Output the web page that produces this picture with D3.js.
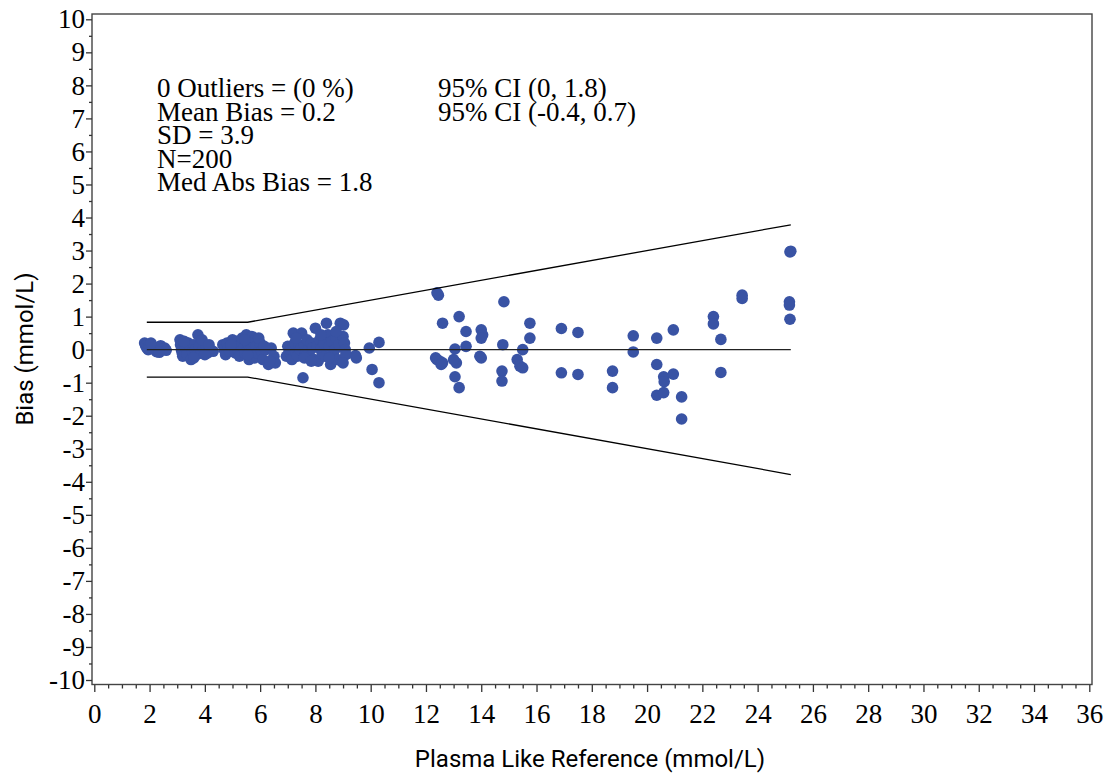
<!DOCTYPE html>
<html>
<head>
<meta charset="utf-8">
<script src="https://cdn.jsdelivr.net/npm/d3@7"></script>
<style>
  html, body { margin: 0; padding: 0; background: #fff; }
  svg { display: block; }
</style>
</head>
<body>
<svg id="chart" width="1112" height="777"></svg>
<script>
// ---- Data ----
const refX = [
  // cluster 1.8-2.6
  1.82,1.86,1.9,2.0,2.1,2.15,2.25,2.3,2.4,2.45,2.55,2.6,1.95,2.05,2.35,
  // cluster 3.0-4.4
  3.1,3.12,3.15,3.18,3.2,3.3,3.35,3.4,3.45,3.5,3.55,3.6,3.65,3.7,3.75,3.8,3.85,3.95,4.05,4.1,4.2,4.3,
  3.25,3.6,3.9,4.0,4.15,
  // cluster 4.6-6.6
  4.65,4.7,4.75,4.8,4.85,4.9,5.0,5.05,5.1,5.15,5.2,5.25,5.3,5.35,5.4,5.45,5.5,5.55,5.6,5.65,5.7,5.75,5.8,5.85,5.9,6.0,6.05,6.1,6.2,6.3,6.4,6.5,6.55,
  4.95,5.45,5.55,5.95,6.15,6.35,
  // cluster 6.9-9.1
  6.95,7.0,7.05,7.1,7.15,7.2,7.25,7.3,7.35,7.4,7.45,7.5,7.55,7.6,7.65,7.7,7.75,7.8,7.85,7.9,7.95,8.0,8.05,8.1,8.15,8.2,8.25,8.3,8.35,8.4,8.45,8.5,8.55,8.6,8.65,8.7,8.75,8.8,8.85,8.9,8.95,9.0,9.02,9.05,9.08,9.1,
  7.3,7.6,8.2,8.5,8.75,9.0,7.85,
  // 9.4-10.4
  9.45,9.48,9.95,10.05,10.3,10.3,
  // sparse points
  12.45,12.4,12.6,12.35,12.4,12.5,12.6,12.55,
  13.05,13.1,13.0,13.2,13.05,13.2,13.45,13.45,
  14.0,14.05,14.0,13.95,14.0,
  14.82,14.78,14.75,14.75,
  15.3,15.4,15.5,15.5,15.76,15.76,
  16.9,16.9,17.5,17.5,18.75,18.75,19.5,19.5,
  20.35,20.35,20.35,20.6,20.62,20.6,20.95,20.95,21.25,21.25,
  22.4,22.4,22.67,22.67,23.44,23.44,
  25.17,25.15,25.15,25.17,25.2
];
const bias = [
  0.2,0.12,0.05,0.15,0.1,0.02,-0.06,0.05,0.12,0.0,0.05,-0.02,0.0,0.2,-0.08,
  0.3,0.15,0.0,-0.1,-0.2,0.05,-0.15,0.2,0.1,-0.3,-0.05,0.15,0.0,-0.15,0.45,0.1,-0.1,0.05,0.1,-0.1,0.0,-0.05,
  0.25,-0.25,0.3,-0.15,0.15,
  0.15,0.0,-0.15,0.2,0.05,-0.05,0.3,0.1,-0.1,0.25,0.0,-0.2,0.15,0.35,0.05,-0.1,0.45,0.2,-0.3,0.0,0.4,0.25,-0.25,0.1,-0.1,0.2,-0.05,-0.3,0.0,-0.45,0.05,-0.2,-0.4,
  0.15,0.3,-0.15,0.35,0.1,-0.35,
  -0.2,0.1,-0.05,0.0,-0.3,0.5,0.2,-0.1,-0.2,0.1,0.0,0.5,-0.85,0.15,-0.1,0.3,0.0,-0.2,0.2,0.05,-0.3,0.65,0.1,-0.35,0.3,0.0,-0.15,0.2,-0.2,0.8,0.45,0.1,-0.45,0.25,-0.1,0.0,0.35,-0.3,0.15,0.8,-0.35,0.4,0.75,0.2,0.0,-0.15,
  0.35,-0.25,0.45,-0.25,0.55,-0.4,-0.35,
  -0.18,-0.25,0.05,-0.6,0.22,-1.0,
  1.65,1.72,0.8,-0.25,-0.3,-0.35,-0.4,-0.45,
  0.02,-0.4,-0.3,1.0,-0.82,-1.15,0.55,0.1,
  0.6,0.45,0.35,-0.2,-0.25,
  1.45,0.15,-0.65,-0.95,
  -0.3,-0.5,-0.55,0.0,0.8,0.35,
  0.64,-0.7,0.52,-0.75,-0.65,-1.15,0.42,-0.07,
  0.35,-0.45,-1.38,-0.82,-0.97,-1.3,0.6,-0.74,-1.43,-2.1,
  1.0,0.78,0.31,-0.69,1.65,1.55,
  2.96,1.45,1.35,0.92,2.98
];
// acceptance limits
const limitX = [1.9, 5.55, 25.2];
const limitUpper = [0.83, 0.83, 3.78];
const limitLower = [-0.83, -0.83, -3.78];
const zeroX = [1.9, 25.2];
const zeroY = [0, 0];

const xTicks = [0,2,4,6,8,10,12,14,16,18,20,22,24,26,28,30,32,34,36];
const yTicks = [10,9,8,7,6,5,4,3,2,1,0,-1,-2,-3,-4,-5,-6,-7,-8,-9,-10];

const statsLeft = ["0 Outliers = (0 %)", "Mean Bias = 0.2", "SD = 3.9", "N=200", "Med Abs Bias = 1.8"];
const statsRight = ["95% CI (0, 1.8)", "95% CI (-0.4, 0.7)"];

// ---- Drawing ----
const svg = d3.select("#chart");
const x = d3.scaleLinear().domain([0, 36]).range([94.3, 1089.3]);
const y = d3.scaleLinear().domain([-10, 10]).range([680, 19.3]);

const serif = "'Liberation Serif', 'Times New Roman', serif";
const plain = d => String(d);

// frame
svg.append("rect")
  .attr("x", 92).attr("y", 14).attr("width", 1000).attr("height", 670.5)
  .attr("fill", "none").attr("stroke", "#444").attr("stroke-width", 1.4);

const xMinor = d3.range(0, 36.01, 0.5).filter(v => Math.abs(v % 2) > 1e-9);
const yMinor = d3.range(-10, 10.01, 0.5).filter(v => Math.abs(v % 1) > 1e-9);

const gx = svg.append("g").attr("transform", "translate(0,685)");
gx.call(d3.axisBottom(x).tickValues(xTicks).tickSize(7).tickPadding(12).tickFormat(plain));
gx.append("g").call(d3.axisBottom(x).tickValues(xMinor).tickSize(3.5).tickFormat(""));
gx.selectAll(".domain").remove();
gx.selectAll("text").attr("font-family", serif).attr("font-size", 27).attr("fill", "#000");
gx.selectAll("line").attr("stroke", "#333").attr("stroke-width", 1.3);

const gy = svg.append("g").attr("transform", "translate(92,0)");
gy.call(d3.axisLeft(y).tickValues(yTicks).tickSize(6).tickPadding(1).tickFormat(plain));
gy.append("g").call(d3.axisLeft(y).tickValues(yMinor).tickSize(3).tickFormat(""));
gy.selectAll(".domain").remove();
gy.selectAll("text").attr("font-family", serif).attr("font-size", 27).attr("fill", "#000");
gy.selectAll("line").attr("stroke", "#333").attr("stroke-width", 1.3);

// points
const pts = refX.map((v, i) => ({x: v, y: bias[i]}));
svg.append("g").selectAll("circle").data(pts).join("circle")
  .attr("cx", d => x(d.x)).attr("cy", d => y(d.y)).attr("r", 5.8)
  .attr("fill", "#3953a4");

// lines
const line = d3.line().x(d => x(d[0])).y(d => y(d[1]));
svg.append("path").attr("d", line(limitX.map((v, i) => [v, limitUpper[i]])))
  .attr("fill", "none").attr("stroke", "#000").attr("stroke-width", 1.3);
svg.append("path").attr("d", line(limitX.map((v, i) => [v, limitLower[i]])))
  .attr("fill", "none").attr("stroke", "#000").attr("stroke-width", 1.3);
svg.append("path").attr("d", line(zeroX.map((v, i) => [v, zeroY[i]])))
  .attr("fill", "none").attr("stroke", "#222").attr("stroke-width", 1.4);

// stats text
const st = svg.append("g").attr("font-family", serif).attr("font-size", 27).attr("fill", "#000");
st.selectAll("text.l").data(statsLeft).join("text").attr("class", "l")
  .attr("x", 157).attr("y", (d, i) => 97 + i * 23.5).text(d => d);
st.selectAll("text.r").data(statsRight).join("text").attr("class", "r")
  .attr("x", 438).attr("y", (d, i) => 97 + i * 23.5).text(d => d);

// axis titles
svg.append("text").attr("x", 590).attr("y", 767).attr("text-anchor", "middle")
  .attr("font-family", "Roboto, sans-serif").attr("font-size", 24).attr("fill", "#000")
  .text("Plasma Like Reference (mmol/L)");
svg.append("text").attr("transform", "translate(33,349) rotate(-90)").attr("text-anchor", "middle")
  .attr("font-family", "Roboto, sans-serif").attr("font-size", 24).attr("fill", "#000")
  .text("Bias (mmol/L)");
</script>
</body>
</html>
